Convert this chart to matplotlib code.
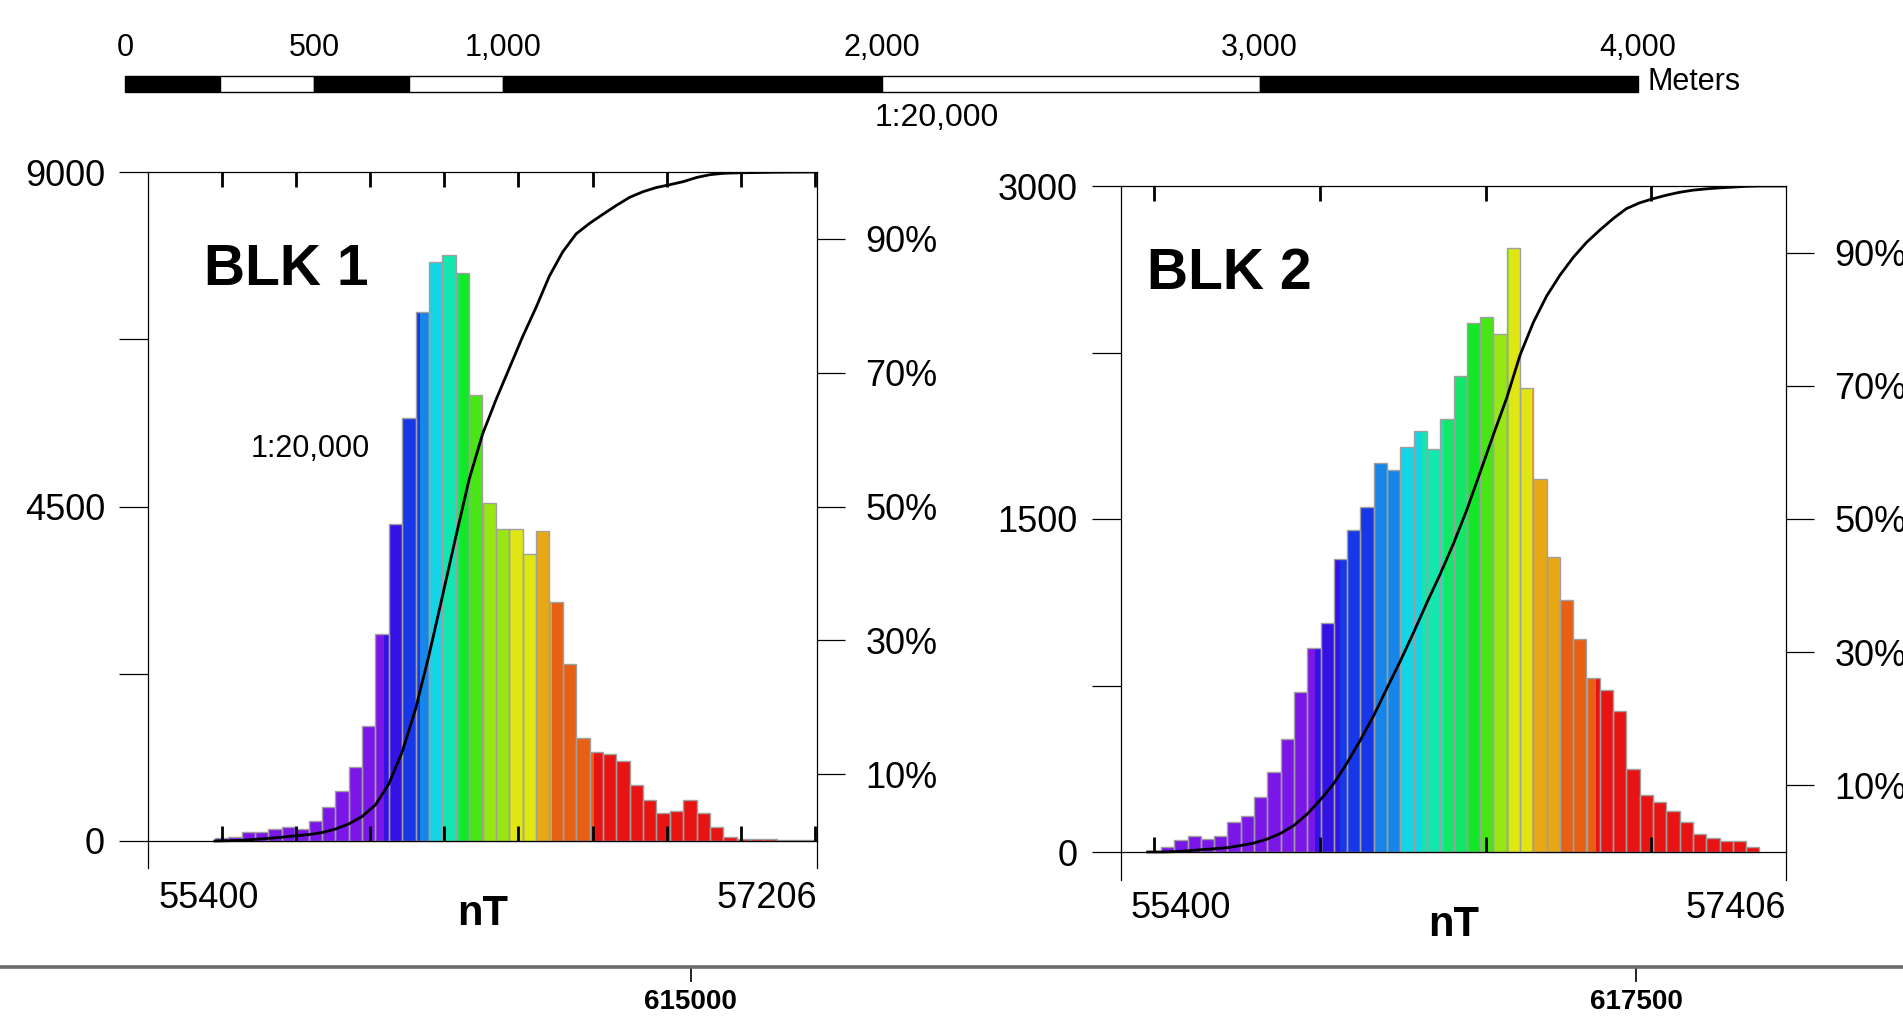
import numpy as np
import matplotlib

matplotlib.use("Agg")
import matplotlib.pyplot as plt

plt.rcParams["font.family"] = ["Liberation Sans", "DejaVu Sans"]

W, H = 1903, 1035
N_BINS = 50

# ---- histogram data (counts per 50-bin histogram, starting at FIRST_BIN) ----
BLK1_RANGE = (55400, 57206)
BLK1_FIRST_BIN = 5
BLK1_COUNTS = [36, 58, 126, 126, 157, 184, 157, 274, 462, 677,
               990, 1543, 2784, 4259, 5685, 7117, 7784, 7877, 7642, 5994,
               4543, 4198, 4204, 3864, 4173, 3216, 2377, 1389, 1204, 1173,
               1080, 747, 552, 372, 404, 552, 372, 184, 58, 30,
               27, 27, 12, 9, 9]
BLK1_YMAX = 9000
BLK1_YTICKS = [0, 2250, 4500, 6750, 9000]
BLK1_YLABELS = ["0", "", "4500", "", "9000"]
BLK1_XTICKS = [55600, 55800, 56000, 56200, 56400, 56600, 56800, 57000, 57200]
BLK1_BREAKS = [56036, 56086, 56133, 56159, 56195, 56231, 56242, 56267,
               56303, 56375, 56447, 56491, 56603]

BLK2_RANGE = (55400, 57406)
BLK2_FIRST_BIN = 2
BLK2_COUNTS = [0, 21, 52, 72, 60, 72, 134, 163, 250, 362,
               507, 720, 917, 1030, 1320, 1452, 1556, 1754, 1721, 1825,
               1897, 1817, 1949, 2143, 2383, 2410, 2334, 2721, 2090, 1680,
               1328, 1134, 958, 784, 730, 637, 372, 259, 226, 186,
               134, 83, 62, 50, 50, 21, 0, 0]
BLK2_YMAX = 3000
BLK2_YTICKS = [0, 750, 1500, 2250, 3000]
BLK2_YLABELS = ["0", "", "1500", "", "3000"]
BLK2_XTICKS = [55500, 56000, 56500, 57000]
BLK2_BREAKS = [55986, 56062, 56162, 56243, 56307, 56375, 56443, 56483,
               56523, 56570, 56640, 56724, 56832]

PCT_TICKS = [10, 30, 50, 70, 90]

CLASS_COLORS = ["#7b16e8", "#3312e6", "#1638e8", "#1886e8", "#14d4e6",
                "#14e6b0", "#14e66a", "#14e628", "#48e614", "#98e614",
                "#e0e614", "#e8a814", "#e86014", "#e81414"]

# scale bar (meters) and map frame eastings
SCALE_EDGES = [0, 250, 500, 750, 1000, 2000, 3000, 4000]
SCALE_LABELED = [0, 500, 1000, 2000, 3000, 4000]
EASTING_TICKS = [615000, 617500]
EASTING_LIMITS = (613174, 618206)


def add_px_axes(fig, left, top, right, bottom):
    return fig.add_axes([left / W, 1 - bottom / H, (right - left) / W, (bottom - top) / H])


def fig_text(fig, x, y, s, **kw):
    return fig.text(x / W, 1 - y / H, s, **kw)


def draw_panel(fig, box, x_range, first_bin, counts, ymax, yticks, ylabels, xticks, breaks):
    left, top, right, bottom, base = box
    ax = add_px_axes(fig, left, top, right, bottom)
    edges = np.linspace(x_range[0], x_range[1], N_BINS + 1)
    counts = np.asarray(counts, dtype=float)
    n = len(counts)
    lo = edges[first_bin:first_bin + n]
    hi = edges[first_bin + 1:first_bin + n + 1]
    cuts = np.asarray(breaks)

    # coloured bars, split where a colour class changes inside a bin
    for x0, x1, c in zip(lo, hi, counts):
        if c <= 0:
            continue
        pts = [x0] + [v for v in cuts if x0 < v < x1] + [x1]
        for s0, s1 in zip(pts[:-1], pts[1:]):
            k = np.searchsorted(cuts, 0.5 * (s0 + s1))
            ax.bar(s0, c, width=s1 - s0, align="edge", color=CLASS_COLORS[k], linewidth=0)
    mask = counts > 0
    ax.bar(lo[mask], counts[mask], width=(hi - lo)[mask], align="edge", fill=False,
           edgecolor="#a0a0a0", linewidth=1.0)

    cum = np.concatenate([[0.0], np.cumsum(counts)]) / counts.sum() * ymax
    ax.plot(np.concatenate([[lo[0]], hi]), cum, color="black", lw=2.0, zorder=5)

    ylow = -ymax * (bottom - base) / (base - top)
    ax.set_xlim(*x_range)
    ax.set_ylim(ylow, ymax)
    ax.patch.set_visible(False)

    for side in ("left", "right", "top"):
        ax.spines[side].set_linewidth(0.9)
    ax.spines["bottom"].set_position(("data", 0))
    ax.spines["bottom"].set_linewidth(0.9)

    ax.set_yticks(yticks)
    ax.set_yticklabels(ylabels, fontsize=26)
    ax.tick_params(axis="y", direction="out", length=21, width=0.9, pad=10)
    ax.set_xticks(xticks)
    ax.tick_params(axis="x", direction="in", top=True, bottom=True, length=11, width=2.0,
                   labelbottom=False, labeltop=False)

    tax = ax.twinx()
    tax.set_ylim(ylow / ymax * 100, 100)
    tax.set_yticks(PCT_TICKS)
    tax.set_yticklabels([f"{p}%" for p in PCT_TICKS], fontsize=26)
    tax.tick_params(axis="y", direction="out", length=20, width=0.9, pad=15)
    for s in tax.spines.values():
        s.set_visible(False)
    return ax


def main():
    fig = plt.figure(figsize=(W / 100, H / 100), dpi=100)

    # ---- scale bar ----
    sax = add_px_axes(fig, 125, 76, 1638, 92)
    starts = SCALE_EDGES[:-1]
    widths = np.diff(SCALE_EDGES)
    fills = ["black" if i % 2 == 0 else "white" for i in range(len(starts))]
    sax.barh(0.5, widths, left=starts, height=1.0, color=fills, edgecolor="black",
             linewidth=1.0, clip_on=False)
    sax.set_xlim(SCALE_EDGES[0], SCALE_EDGES[-1])
    sax.set_ylim(0, 1)
    sax.axis("off")
    for v in SCALE_LABELED:
        sax.text(v, 2.72, f"{v:,}", ha="center", va="center", fontsize=22, clip_on=False)
    sax.text(4024, 0.6, "Meters", ha="left", va="center", fontsize=22, clip_on=False)
    sax.text(2147, -1.65, "1:20,000", ha="center", va="center", fontsize=23, clip_on=False)

    # ---- histogram panels ----
    draw_panel(fig, (148, 172, 817, 868, 841), BLK1_RANGE, BLK1_FIRST_BIN, BLK1_COUNTS,
               BLK1_YMAX, BLK1_YTICKS, BLK1_YLABELS, BLK1_XTICKS, BLK1_BREAKS)
    draw_panel(fig, (1121, 186, 1786, 880, 852), BLK2_RANGE, BLK2_FIRST_BIN, BLK2_COUNTS,
               BLK2_YMAX, BLK2_YTICKS, BLK2_YLABELS, BLK2_XTICKS, BLK2_BREAKS)

    fig_text(fig, 204, 285, "BLK 1", fontsize=41, fontweight="bold", va="baseline")
    fig_text(fig, 1147, 289, "BLK 2", fontsize=41, fontweight="bold", va="baseline")
    fig_text(fig, 251, 449, "1:20,000", fontsize=22, va="center")

    fig_text(fig, 158, 898, f"{BLK1_RANGE[0]}", fontsize=26, va="center")
    fig_text(fig, 817, 898, f"{BLK1_RANGE[1]}", fontsize=26, va="center", ha="right")
    fig_text(fig, 483, 914, "nT", fontsize=30, fontweight="bold", va="center", ha="center")
    fig_text(fig, 1131, 908, f"{BLK2_RANGE[0]}", fontsize=26, va="center")
    fig_text(fig, 1786, 908, f"{BLK2_RANGE[1]}", fontsize=26, va="center", ha="right")
    fig_text(fig, 1454, 925, "nT", fontsize=30, fontweight="bold", va="center", ha="center")

    # ---- map frame along the bottom ----
    fax = add_px_axes(fig, 0, 940, W, 967)
    fax.patch.set_visible(False)
    for side in ("left", "right", "top"):
        fax.spines[side].set_visible(False)
    fax.spines["bottom"].set_color("#6b6b6b")
    fax.spines["bottom"].set_linewidth(2.6)
    fax.set_xlim(*EASTING_LIMITS)
    fax.set_xticks(EASTING_TICKS)
    fax.set_xticklabels([str(v) for v in EASTING_TICKS], fontsize=20, fontweight="bold")
    fax.tick_params(axis="x", direction="out", length=11, width=1.2, pad=5)
    fax.set_yticks([])

    fig.savefig("out.png", dpi=100)
    plt.close(fig)


if __name__ == "__main__":
    main()
